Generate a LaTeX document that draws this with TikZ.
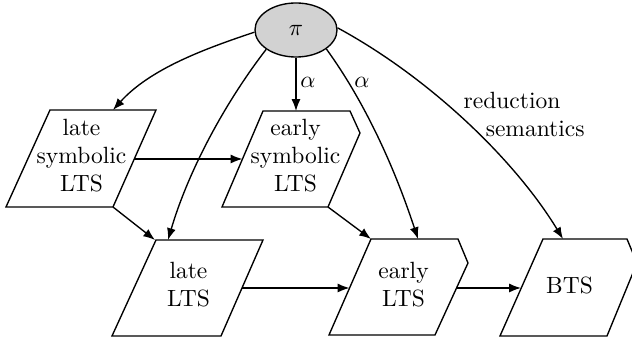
\documentclass[tikz,border=0pt]{standalone}
\usetikzlibrary{arrows.meta,shapes.geometric}
\begin{document}
\begin{tikzpicture}[x=0.4255pt,y=-0.4255pt,line width=0.58pt,
  arr/.style={-{Latex[length=5pt,width=3.8pt]}},
  txt/.style={align=center,font=\fontsize{10}{12}\selectfont,inner sep=0pt},
  lbl/.style={font=\fontsize{10}{12}\selectfont,inner sep=0pt},
  shp/.style={draw,line join=miter}]
\useasboundingbox (0,0) rectangle (632,340);

% top node
\node[ellipse,draw,fill=gray!35,minimum width=34.9pt,minimum height=23pt,inner sep=0pt,
      font=\fontsize{10}{12}\selectfont] (pi) at (296,30) {$\pi$};

% shape vertices
\coordinate (lsA) at (50,110);  \coordinate (lsB) at (156,110);
\coordinate (lsC) at (113,207); \coordinate (lsD) at (6,207);
\coordinate (esA) at (263,111); \coordinate (esB) at (350,111);
\coordinate (esP) at (360,133); \coordinate (esC) at (328,207);
\coordinate (esD) at (222,207);
\coordinate (llA) at (156,240); \coordinate (llB) at (263,240);
\coordinate (llC) at (221,336); \coordinate (llD) at (112,336);
\coordinate (elA) at (371,239); \coordinate (elB) at (458,239);
\coordinate (elP) at (468,263); \coordinate (elC) at (435,335);
\coordinate (elD) at (329,335);
\coordinate (btA) at (543,239); \coordinate (btB) at (627,239);
\coordinate (btP) at (637,263); \coordinate (btC) at (607,336);
\coordinate (btD) at (500,336);

\draw[shp] (lsA) -- (lsB) -- (lsC) -- (lsD) -- cycle;
\draw[shp] (esA) -- (esB) -- (esP) -- (esC) -- (esD) -- cycle;
\draw[shp] (llA) -- (llB) -- (llC) -- (llD) -- cycle;
\draw[shp] (elA) -- (elB) -- (elP) -- (elC) -- (elD) -- cycle;
\draw[shp] (btA) -- (btB) -- (btP) -- (btC) -- (btD) -- cycle;

% texts
\node[txt] (ls) at (81.5,155.4) {late\\symbolic\\LTS};
\node[txt] (es) at (295.5,155.4) {early\\symbolic\\LTS};
\node[txt] (ll) at (188.5,285) {late\\LTS};
\node[txt] (el) at (403.5,285) {early\\LTS};
\node[txt] (bts) at (569.5,285) {BTS};

% connector end points
\coordinate (lsTop) at (113,110);
\coordinate (lsRight) at (134,159);
\coordinate (esLeft) at (242.5,159);
\coordinate (esTop) at (296,111);
\coordinate (llTopL) at (155,240);
\coordinate (llTopR) at (168,240);
\coordinate (llRight) at (242,288);
\coordinate (elLeft) at (349.5,288);
\coordinate (elTopL) at (371,239);
\coordinate (elTop) at (418,239);
\coordinate (elRight) at (456.5,288);
\coordinate (btLeft) at (521,288);
\coordinate (btTop) at (563,239);

% connectors from pi
\draw[arr] (pi.183) .. controls (204,49) and (150,69) .. (lsTop);
\draw[arr] (pi.213) .. controls (224,104) and (188,172) .. (llTopR);
\draw[arr] (pi.south) -- (esTop);
\draw[arr] (pi.328) .. controls (367,105) and (396,172) .. (elTop);
\draw[arr] (pi.3) .. controls (430,78) and (515,160) .. (btTop);

\node[lbl] (a1) at (308,82) {$\alpha$};
\node[lbl] (a2) at (362,82) {$\alpha$};
\node[lbl,align=left,anchor=north west] (red) at (463,91.7) {reduction\\\hspace*{9.4pt}semantics};

% other connectors
\draw[arr] (lsRight) -- (esLeft);
\draw[arr] (lsC) -- (llTopL);
\draw[arr] (esC) -- (elTopL);
\draw[arr] (llRight) -- (elLeft);
\draw[arr] (elRight) -- (btLeft);
\end{tikzpicture}
\end{document}
